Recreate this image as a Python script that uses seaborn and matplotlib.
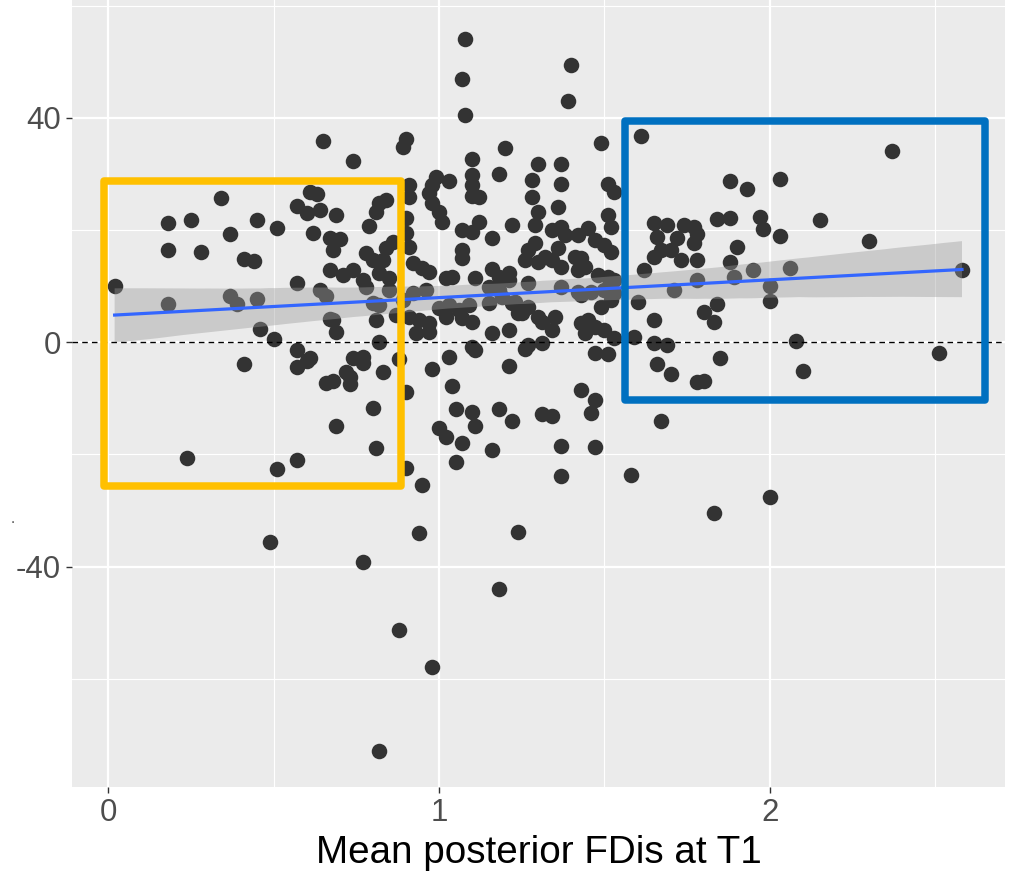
import numpy as np
import pandas as pd
import matplotlib
matplotlib.use("Agg")
import matplotlib.pyplot as plt
from matplotlib.patches import Rectangle
import seaborn as sns

plt.rcParams["font.family"] = ["Liberation Sans", "DejaVu Sans"]

# ---- data ----
fdis_t1 = [
    0.02, 0.18, 0.18, 0.25, 0.18, 0.28, 0.34, 0.37, 0.45, 0.51, 0.41, 0.44, 0.37, 0.39, 0.45, 0.57,
    0.66, 0.67, 0.67, 0.46, 0.50, 0.57, 0.61, 0.41, 0.60, 0.57, 0.66, 0.24, 0.51, 0.57, 0.49, 0.61,
    0.63, 0.57, 0.60, 0.64, 0.62, 0.67, 0.65, 0.74, 0.90, 0.89, 1.08, 1.07, 1.08, 1.20, 1.10, 1.18,
    1.10, 1.10, 1.03, 0.99, 0.98, 0.97, 0.91, 0.91, 0.84, 1.12, 1.10, 0.69, 0.82, 0.81, 0.79, 0.90,
    0.90, 0.91, 0.70, 0.68, 0.78, 0.80, 0.84, 0.86, 0.83, 0.71, 0.74, 0.77, 0.78, 0.82, 0.85, 0.92,
    0.95, 0.97, 0.98, 1.00, 1.01, 1.07, 1.10, 1.12, 1.07, 1.07, 1.16, 1.22, 1.02, 1.04, 1.11, 1.16,
    1.18, 1.15, 1.21, 1.18, 0.96, 0.80, 0.82, 0.64, 0.85, 0.92, 0.89, 1.00, 1.03, 1.06, 1.09, 1.15,
    1.19, 1.22, 1.24, 0.68, 0.69, 0.81, 0.87, 0.91, 0.94, 0.97, 0.93, 0.97, 1.02, 1.07, 1.10, 0.82,
    1.10, 1.16, 1.21, 0.74, 0.77, 0.77, 0.72, 0.73, 0.68, 0.73, 0.83, 0.88, 0.80, 0.69, 0.81, 0.90,
    0.90, 0.95, 0.94, 0.98, 1.03, 1.11, 1.21, 1.04, 1.05, 1.10, 1.11, 1.18, 1.22, 1.00, 1.02, 1.07,
    1.16, 1.05, 1.24, 0.77, 0.88, 0.98, 0.82, 1.18, 1.40, 1.39, 1.49, 1.61, 1.30, 1.37, 1.28, 1.37,
    1.28, 1.51, 1.53, 1.30, 1.36, 1.29, 1.34, 1.37, 1.38, 1.42, 1.45, 1.51, 1.52, 1.47, 1.50, 1.52,
    1.29, 1.27, 1.26, 1.30, 1.32, 1.36, 1.34, 1.37, 1.41, 1.43, 1.42, 1.44, 1.48, 1.51, 1.53, 1.21,
    1.27, 1.37, 1.42, 1.43, 1.46, 1.50, 1.53, 1.23, 1.27, 1.25, 1.30, 1.31, 1.35, 1.34, 1.43, 1.45,
    1.47, 1.49, 1.52, 1.44, 1.50, 1.27, 1.31, 1.53, 1.59, 1.65, 1.69, 1.60, 1.65, 1.71, 1.62, 1.65,
    1.67, 1.65, 1.69, 1.66, 1.72, 1.74, 1.77, 1.77, 1.70, 1.73, 1.78, 1.78, 1.26, 1.47, 1.51, 1.43,
    1.47, 1.46, 1.31, 1.34, 1.37, 1.47, 1.37, 1.58, 1.66, 1.70, 1.78, 1.67, 2.37, 1.88, 1.93, 2.03,
    2.15, 2.30, 1.84, 1.88, 1.97, 1.98, 2.03, 1.90, 1.78, 1.88, 1.95, 2.06, 1.89, 2.58, 2.00, 2.00,
    1.84, 1.80, 1.83, 2.08, 2.51, 1.85, 2.10, 1.80, 2.00, 1.83,
]
change = [
    10.0, 6.8, 21.2, 21.7, 16.4, 16.0, 25.7, 19.3, 21.7, 20.3, 14.8, 14.4, 8.2, 6.8, 7.7, 10.5,
    8.2, 12.8, 4.1, 2.3, 0.5, -1.4, -2.9, -3.9, -3.4, -4.5, -7.3, -20.7, -22.6, -21.0, -35.7, 26.7,
    26.4, 24.2, 23.0, 23.5, 19.4, 18.5, 35.8, 32.3, 36.2, 34.8, 54.0, 46.9, 40.5, 34.6, 32.6, 30.0,
    29.8, 28.0, 28.7, 29.4, 28.0, 26.6, 28.0, 25.8, 25.3, 25.8, 26.0, 22.6, 24.8, 23.2, 20.7, 22.1,
    19.4, 16.9, 18.4, 16.4, 15.9, 14.6, 16.8, 17.8, 14.6, 11.9, 12.8, 11.1, 9.8, 12.3, 11.4, 14.1,
    13.2, 12.5, 24.8, 23.2, 21.4, 20.0, 19.6, 21.4, 16.4, 15.0, 18.5, 20.9, 11.4, 11.6, 11.4, 13.0,
    11.6, 9.8, 11.1, 9.3, 9.3, 7.0, 6.6, 9.3, 9.3, 8.7, 7.5, 6.1, 6.6, 5.7, 6.6, 7.0,
    8.0, 7.0, 5.2, 3.9, 1.8, 3.9, 4.8, 4.5, 3.9, 3.4, 1.6, 1.8, 4.5, 4.3, 3.6, 0.0,
    -0.9, 1.6, 2.1, -2.9, -2.7, -3.7, -5.3, -6.2, -7.0, -7.5, -5.3, -3.0, -11.8, -15.0, -18.9, -8.9,
    -22.5, -25.5, -34.0, -4.8, -2.7, -1.4, -4.3, -7.8, -11.9, -12.5, -15.0, -11.9, -14.1, -15.3, -16.9, -18.0,
    -19.3, -21.4, -33.9, -39.2, -51.3, -57.9, -72.9, -44.0, 49.4, 43.0, 35.5, 36.7, 31.7, 31.7, 28.9, 28.2,
    25.8, 28.2, 26.7, 23.2, 24.1, 20.9, 20.0, 20.5, 19.1, 19.1, 20.3, 22.6, 20.5, 18.2, 17.3, 16.0,
    17.6, 16.4, 14.6, 14.3, 15.2, 16.8, 14.6, 13.4, 15.2, 15.0, 12.8, 13.4, 11.9, 11.6, 11.1, 12.3,
    10.5, 9.8, 8.9, 8.4, 8.9, 9.3, 8.7, 7.1, 6.2, 5.2, 4.5, 3.6, 4.5, 2.1, 3.4, 3.9,
    2.7, 6.2, 7.5, 1.6, 2.1, -0.5, -0.2, 0.7, 0.9, -0.2, -0.5, 7.1, 3.9, 9.3, 12.8, 15.2,
    16.4, 21.2, 20.9, 18.7, 18.5, 20.9, 20.5, 17.6, 16.4, 14.6, 14.6, 11.1, -1.2, -2.0, -2.1, -8.6,
    -10.3, -12.7, -12.8, -13.2, -18.5, -18.7, -23.9, -23.7, -3.9, -5.7, -7.1, -14.1, 34.0, 28.7, 27.3, 29.1,
    21.7, 18.0, 21.9, 22.1, 22.3, 20.1, 18.9, 16.9, 19.3, 14.3, 12.8, 13.2, 11.6, 12.8, 10.0, 7.3,
    6.8, 5.3, 3.6, 0.2, -2.0, -2.9, -5.2, -7.0, -27.6, -30.5,
]
x_ticks = [0, 1, 2]
y_ticks = [-40, 0, 40]
x_title = "Mean posterior FDis at T1"
# highlight boxes (data units): x0, x1, y0, y1
low_box = [-0.012, 0.885, -25.6, 28.7]
high_box = [1.562, 2.651, -10.25, 39.5]

n = min(len(fdis_t1), len(change))
df = pd.DataFrame({"fdis": fdis_t1[:n], "change": change[:n]})

fig = plt.figure(figsize=(10.2, 8.72), dpi=100)
ax = fig.add_axes([72/1020, 1 - 787/872, 933/1020, 787/872])
ax.set_facecolor("#EBEBEB")
for s in ax.spines.values():
    s.set_visible(False)

sns.scatterplot(data=df, x="fdis", y="change", ax=ax, color="#333333",
                s=125, linewidth=0, legend=False, zorder=2)
n_coll = len(ax.collections)
sns.regplot(data=df, x="fdis", y="change", ax=ax, scatter=False, ci=95,
            n_boot=1000, seed=3, color="#999999",
            line_kws=dict(color="#3366FF", lw=2.3, zorder=3.5))
for c in ax.collections[n_coll:]:
    c.set_facecolor("#999999")
    c.set_edgecolor("none")
    c.set_alpha(0.4)
    c.set_zorder(3)

ax.axhline(0, color="black", lw=1.0, ls=(0, (4, 3)), zorder=3.2)

for box, col in [(low_box, "#FFC000"), (high_box, "#0070C0")]:
    r = Rectangle((box[0], box[2]), box[1] - box[0], box[3] - box[2], fill=False,
                  edgecolor=col, lw=5.4, joinstyle="round", zorder=5, clip_on=False)
    ax.add_patch(r)

ax.set_xlim(-0.1088, 2.710)
ax.set_ylim(-79.3, 61.0)
ax.set_xticks(x_ticks)
ax.set_xticklabels([str(t) for t in x_ticks])
ax.set_yticks(y_ticks)
ax.set_yticklabels([str(t) for t in y_ticks])
ax.set_xticks([0.5, 1.5, 2.5], minor=True)
ax.set_yticks([-60, -20, 20, 60], minor=True)
ax.set_axisbelow(True)
ax.grid(which="major", color="white", lw=1.6)
ax.grid(which="minor", color="white", lw=0.8)
ax.tick_params(which="major", length=4, width=1, color="#333333",
               labelsize=22.5, labelcolor="#4D4D4D", pad=4)
ax.tick_params(which="minor", length=0)
ax.set_xlabel(x_title, fontsize=27.8, color="black", labelpad=5)
ax.set_ylabel("")
fig.text(12.7/1020, 1 - 523/872, ".", fontsize=11, color="#4D4D4D",
         ha="center", va="baseline")

fig.savefig("out.png", dpi=100)
